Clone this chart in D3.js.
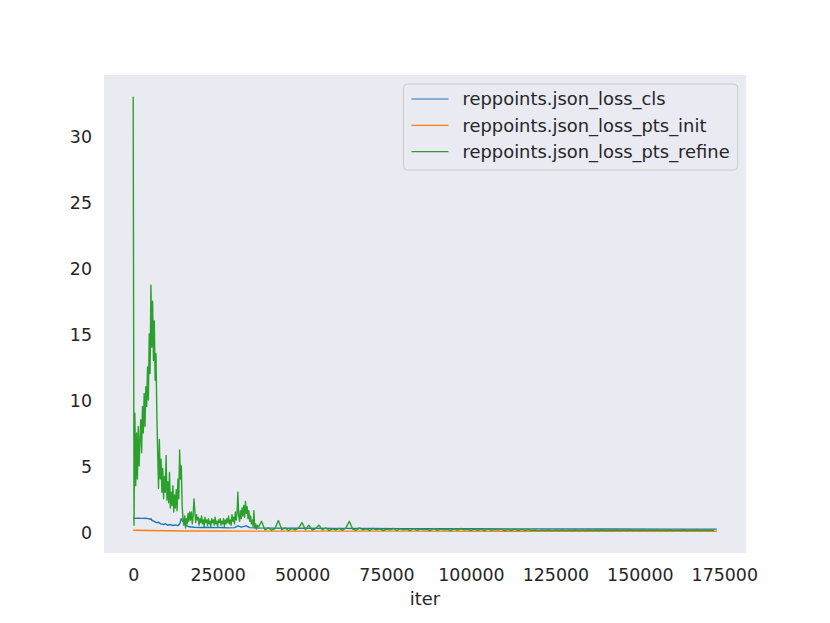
<!DOCTYPE html>
<html>
<head>
<meta charset="utf-8">
<script src="https://cdn.jsdelivr.net/npm/d3@7/dist/d3.min.js"></script>
<style>
  html, body { margin: 0; padding: 0; background: #ffffff; }
  svg { display: block; }
  text { font-family: "DejaVu Sans", sans-serif; fill: #262626; }
</style>
</head>
<body>
<svg id="chart" width="830" height="623"></svg>
<script>
// ---------------- data ----------------
const seriesNames = ["reppoints.json_loss_cls", "reppoints.json_loss_pts_init", "reppoints.json_loss_pts_refine"];
const seriesColors = ["#1f77b4", "#ff7f0e", "#2ca02c"];
const xTickValues = [0, 25000, 50000, 75000, 100000, 125000, 150000, 175000];
const yTickValues = [0, 5, 10, 15, 20, 25, 30];
const xLabel = "iter";

// loss_cls: [iter, value]
const clsPoints = [
  [0,1.05],[500,1.02],[1500,1.03],[2500,1.02],[3500,1.03],[4500,1.0],[5000,0.95],[5300,1.0],
  [5600,0.85],[6200,0.8],[6800,0.7],[7500,0.72],[8200,0.6],[9000,0.55],[9500,0.62],[10200,0.5],
  [11000,0.55],[11800,0.48],[12500,0.52],[13200,0.47],[13800,0.6],[14200,1.0],[14800,0.75],
  [15500,0.5],[16500,0.38],[18000,0.35],[20000,0.33],[22000,0.35],[24000,0.32],[26000,0.33],
  [28000,0.3],[30000,0.32],[31000,0.45],[32000,0.35],[33500,0.45],[34500,0.32],[36000,0.3],
  [40000,0.28],[50000,0.27],[60000,0.26],[70000,0.25],[80000,0.24],[100000,0.23],[120000,0.22],
  [140000,0.21],[160000,0.2],[172800,0.2]
];

// loss_pts_init: [iter, value]
const initPoints = [
  [0,0.12],[5000,0.1],[10000,0.08],[15000,0.06],[20000,0.06],[36000,0.05],[80000,0.05],[172800,0.04]
];

// loss_pts_refine, early phase (logged every 250 iters from 0)
const refineEarlyStart = 0;
const refineEarlyStep = 250;
const refineEarly = [
  33.0,0.5,9.0,3.5,7.5,4.0,8.0,5.0,7.0,8.5,6.0,9.5,7.5,10.5,8.0,11.0,9.5,12.5,10.0,15.0,
  12.0,18.7,14.0,17.5,13.0,16.0,11.5,13.5,9.0,6.0,3.3,7.0,4.0,5.5,3.0,4.8,2.5,4.2,3.0,5.8,
  2.4,3.8,2.2,4.5,1.8,3.0,2.0,3.5,1.5,2.8,1.8,3.2,1.6,4.0,2.5,6.2,4.0,5.0,2.0,1.0,
  0.5,1.2,0.3,1.0,0.6,1.4,0.8,1.5,0.9,1.5,0.6,1.2,2.5,1.6,0.7,1.3,0.9,1.1,0.5,1.0,
  0.7,1.2,0.6,0.9,0.4,1.1,0.7,0.9,0.5,1.0,0.6,0.8,0.4,1.0,0.7,0.9,0.5,1.1,0.6,0.8,
  0.4,0.9,0.7,1.0,0.5,0.8,0.6,1.0,0.4,0.9,0.6,1.0,0.7,1.2,0.6,0.9,0.5,1.3,0.8,1.1,
  0.6,1.5,0.9,1.4,3.0,1.2,0.8,1.6,1.0,1.8,1.2,2.0,1.1,2.3,1.4,1.9,1.0,1.6,0.8,1.2,
  0.6,0.9,0.4,1.6,0.3,0.6,0.2,0.5,0.3
];

// loss_pts_refine, late phase (logged every 1000 iters from 38000)
const refineLateStart = 38000;
const refineLateStep = 1000;
const refineLate = [
  0.8,0.15,0.3,0.12,0.25,0.85,0.15,0.3,0.1,0.25,0.15,0.3,0.7,
  0.15,0.5,0.12,0.25,0.5,0.15,0.3,0.1,0.22,0.15,0.25,0.12,0.3,
  0.8,0.2,0.12,0.3,0.15,0.22,0.1,0.25,0.15,0.22,0.1,0.2,
  0.15,0.25,0.1,0.22,0.15,0.2,0.1,0.25,0.12,0.2,0.15,0.18,
  0.1,0.25,0.12,0.2,0.15,0.18,0.1,0.22,0.12,0.25,0.15,0.18,
  0.1,0.2,0.12,0.2,0.1,0.22,0.12,0.18,0.15,0.2,0.1,0.18,
  0.12,0.2,0.1,0.18,0.12,0.17,0.1,0.14,0.09,0.13,0.1,0.14,
  0.09,0.13,0.1,0.14,0.09,0.13,0.1,0.14,0.09,0.13,0.1,0.14,
  0.09,0.13,0.1,0.14,0.09,0.13,0.1,0.14,0.09,0.13,0.1,0.14,
  0.09,0.13,0.1,0.14,0.09,0.13,0.1,0.14,0.09,0.13,0.1,0.14,
  0.09,0.13,0.1,0.14,0.09,0.13,0.1,0.14,0.09,0.13,0.1,0.13,0.12
];

// ---------------- build series ----------------
const refinePoints = refineEarly.map((v, i) => [refineEarlyStart + i * refineEarlyStep, v])
  .concat(refineLate.map((v, i) => [refineLateStart + i * refineLateStep, v]));
const series = [clsPoints, initPoints, refinePoints];

// ---------------- layout ----------------
const plot = { left: 104, right: 746, top: 75, bottom: 553 };
const svg = d3.select("#chart");

const allPts = series.flat();
const xExt = d3.extent(allPts, d => d[0]);
const yExt = d3.extent(allPts, d => d[1]);
const xPad = (xExt[1] - xExt[0]) * 0.05;
const yPad = (yExt[1] - yExt[0]) * 0.05;

const x = d3.scaleLinear().domain([xExt[0] - xPad, xExt[1] + xPad]).range([plot.left, plot.right]);
const y = d3.scaleLinear().domain([yExt[0] - yPad, yExt[1] + yPad]).range([plot.bottom, plot.top]);

// background
svg.append("rect")
  .attr("x", plot.left).attr("y", plot.top)
  .attr("width", plot.right - plot.left).attr("height", plot.bottom - plot.top)
  .attr("fill", "#eaeaf2");

// axes
const fontPx = 17.4;
const legendFontPx = 17.9;
const xAxis = d3.axisBottom(x).tickValues(xTickValues).tickSize(0).tickPadding(0).tickFormat(d3.format("d"));
const gx = svg.append("g").attr("transform", `translate(0,${plot.bottom})`).call(xAxis);
gx.select(".domain").remove();
gx.selectAll("text").attr("font-size", fontPx).attr("font-family", "DejaVu Sans").attr("fill", "#262626")
  .attr("y", 28).attr("dy", 0);

const yAxis = d3.axisLeft(y).tickValues(yTickValues).tickSize(0).tickPadding(12).tickFormat(d3.format("d"));
const gy = svg.append("g").attr("transform", `translate(${plot.left},0)`).call(yAxis);
gy.select(".domain").remove();
gy.selectAll("text").attr("font-size", fontPx).attr("font-family", "DejaVu Sans").attr("fill", "#262626")
  .attr("dy", "0.36em");

svg.append("text")
  .attr("x", (plot.left + plot.right) / 2).attr("y", 605)
  .attr("text-anchor", "middle").attr("font-size", legendFontPx)
  .text(xLabel);

// lines
svg.append("clipPath").attr("id", "clipPlot").append("rect")
  .attr("x", plot.left).attr("y", plot.top)
  .attr("width", plot.right - plot.left).attr("height", plot.bottom - plot.top);

const line = d3.line().x(d => x(d[0])).y(d => y(d[1]));
svg.append("g").attr("clip-path", "url(#clipPlot)")
  .selectAll("path").data(series).join("path")
  .attr("d", line)
  .attr("fill", "none")
  .attr("stroke", (d, i) => seriesColors[i])
  .attr("stroke-width", 1.4)
  .attr("stroke-linejoin", "round");

// legend
const lg = svg.append("g");
const lgX = 403.5, lgY = 84, rowH = 26.3;
const lgBox = lg.append("rect").attr("x", lgX).attr("y", lgY).attr("rx", 4).attr("ry", 4)
  .attr("fill", "#eaeaf2").attr("fill-opacity", 0.8).attr("stroke", "#cccccc").attr("stroke-width", 1);
const rows = lg.selectAll("g.row").data(seriesNames).join("g").attr("class", "row")
  .attr("transform", (d, i) => `translate(0,${lgY + 15 + i * rowH})`);
rows.append("line").attr("x1", lgX + 8).attr("x2", lgX + 45).attr("y1", 0).attr("y2", 0)
  .attr("stroke", (d, i) => seriesColors[i]).attr("stroke-width", 1.2);
const lgTexts = rows.append("text").attr("x", lgX + 59).attr("y", 0).attr("dy", "0.36em")
  .attr("font-size", legendFontPx).text(d => d);
let maxW = 0;
lgTexts.each(function() { maxW = Math.max(maxW, this.getComputedTextLength()); });
lgBox.attr("width", 59 + maxW + 8).attr("height", 86);
</script>
</body>
</html>
